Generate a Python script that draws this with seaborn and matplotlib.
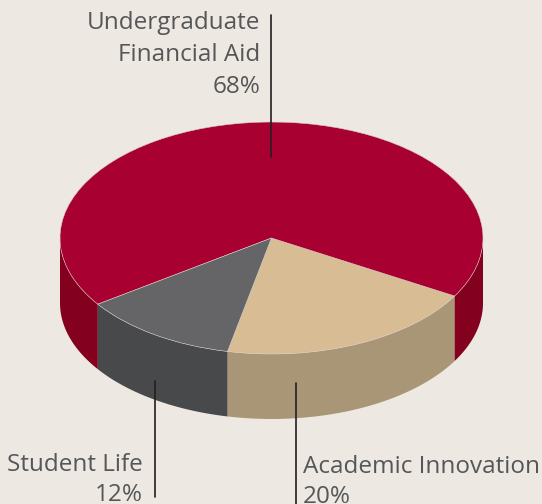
import numpy as np
import matplotlib
matplotlib.use("Agg")
import matplotlib.pyplot as plt
import seaborn as sns

# pie data (counter-clockwise order starting at the front)
categories = ["Academic Innovation", "Undergraduate\nFinancial Aid", "Student Life"]
shares = [20, 68, 12]
top_colors = ["#D8BC94", "#A90032", "#656567"]
side_colors = ["#A99676", "#83001F", "#48494B"]

bg = "#EDE9E2"
text_col = "#555658"
line_col = "#231F20"

sns.set_theme(style="white", rc={"figure.facecolor": bg, "axes.facecolor": bg,
                                 "savefig.facecolor": bg})
plt.rcParams["font.family"] = ["Open Sans", "DejaVu Sans"]

fig = plt.figure(figsize=(5.42, 5.04), dpi=100)
ax = fig.add_axes([0, 0, 1, 1])

wedges, _ = ax.pie(shares, colors=top_colors, startangle=-102.0, counterclock=True,
                   wedgeprops=dict(edgecolor="#d6cdc4", linewidth=0.4, zorder=3))

# side walls of the "3d" pie, only the front half is visible
depth = 0.56
for w, col in zip(wedges, side_colors):
    for k in (-1, 0, 1):
        lo = max(w.theta1, 180 + 360 * k)
        hi = min(w.theta2, 360 + 360 * k)
        if hi <= lo:
            continue
        a = np.radians(np.linspace(lo, hi, 200))
        x, y = np.cos(a), np.sin(a)
        ax.fill(np.r_[x, x[::-1]], np.r_[y, y[::-1] - depth], color=col, lw=0, zorder=2)

ax.set_aspect("auto")
ax.set_xlim(-1.2837, 1.2790)
ax.set_ylim(-2.293, 2.052)
ax.axis("off")

# labels with leader lines: (text, text x, text y, align, line x, line y0, line y1, spacing)
labels = [
    (f"{categories[1]}\n{shares[1]}%", -0.054, 1.96, "right", 0.0, 1.922, 0.698, 1.45),
    (f"{categories[2]}\n{shares[2]}%", -0.608, -1.85, "right", -0.551, -1.233, -2.233, 1.33),
    (f"{categories[0]}\n{shares[0]}%", 0.149, -1.87, "left", 0.116, -1.25, -2.30, 1.33),
]
for txt, tx, ty, ha, lx, y0, y1, ls in labels:
    ax.text(tx, ty, txt, ha=ha, va="top", fontsize=17.5, color=text_col,
            linespacing=ls, multialignment=ha)
    ax.plot([lx, lx], [y0, y1], color=line_col, lw=1.2, zorder=4)

fig.savefig("out.png", dpi=100)
